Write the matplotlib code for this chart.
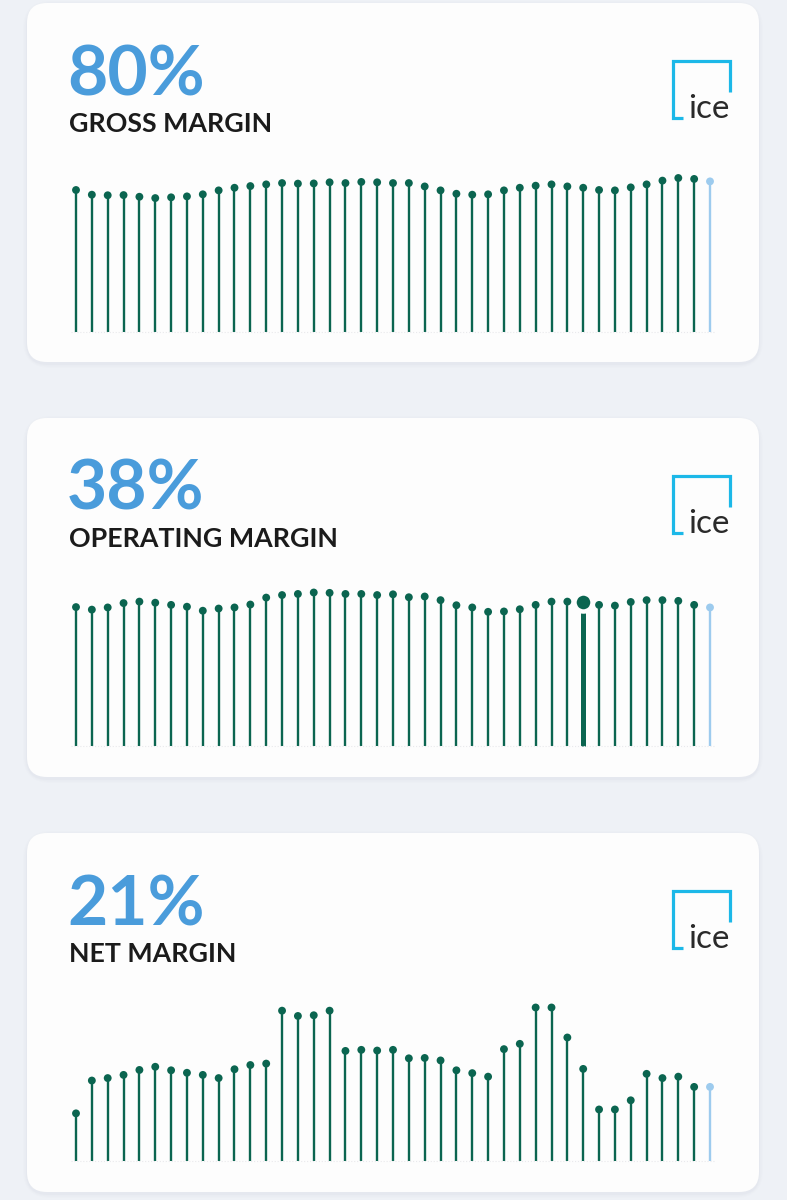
import matplotlib.pyplot as plt
from matplotlib.patches import FancyBboxPatch
import numpy as np

# valores (margen trimestral en %)
gross_margin = [75.4, 72.9, 72.6, 72.7, 71.8, 71.1, 71.5, 72.0, 73.1, 75.2,
                76.6, 77.5, 78.4, 79.1, 78.8, 78.9, 79.5, 79.1, 79.7, 79.5,
                79.1, 79.1, 77.3, 75.2, 73.4, 72.9, 73.1, 75.2, 76.6, 77.7,
                78.4, 77.3, 76.6, 75.4, 75.2, 76.8, 78.4, 80.4, 81.8, 81.3, 80.0]
operating_margin = [38.1, 37.4, 38.0, 39.2, 39.6, 39.3, 38.7, 38.2, 37.1, 37.7,
                    38.0, 38.8, 40.7, 41.4, 41.7, 42.1, 42.0, 41.7, 41.7, 41.4,
                    41.6, 40.8, 41.0, 40.0, 38.6, 38.0, 36.8, 36.9, 37.5, 38.7,
                    39.6, 39.6, 39.6, 38.7, 38.5, 39.5, 40.0, 40.0, 39.8, 38.7, 38.0]
net_margin = [13.5, 22.8, 23.5, 24.4, 25.8, 26.7, 25.7, 25.0, 24.4, 23.5,
              26.0, 27.2, 27.6, 42.6, 41.1, 41.3, 42.6, 31.2, 31.5, 31.3,
              31.5, 29.1, 29.2, 28.5, 25.7, 24.9, 23.9, 31.7, 33.2, 43.5,
              43.5, 35.0, 26.1, 14.6, 14.6, 17.2, 24.7, 23.5, 23.9, 21.0, 21.0]

titles = ['GROSS MARGIN', 'OPERATING MARGIN', 'NET MARGIN']
headline = ['80%', '38%', '21%']
series = [gross_margin, operating_margin, net_margin]
highlight = [None, 32, None]

W, H = 787, 1200
BG = '#eef1f6'
CARD = '#fdfdfd'
GREEN = '#0b6550'
LIGHT = '#9dcbee'
BLUE = '#4a9cdb'
CYAN = '#1cb8e8'

fig = plt.figure(figsize=(W / 100, H / 100), dpi=100, facecolor=BG)
bg = fig.add_axes([0, 0, 1, 1])
bg.set_xlim(0, W)
bg.set_ylim(H, 0)
bg.axis('off')

card_tops = [3, 418, 833]
card_h = 359

for k, top in enumerate(card_tops):
    # sombra suave, sobre todo abajo
    for i, a in enumerate([0.035, 0.025, 0.015]):
        d = 2 + 3 * i
        bg.add_patch(FancyBboxPatch((27 - d / 2, top + 2 - d / 2), 732 + d, card_h + d,
                                    boxstyle='round,pad=0,rounding_size=%d' % (20 + d),
                                    fc='#8a93a8', ec='none', alpha=a))
    bg.add_patch(FancyBboxPatch((27, top), 732, card_h,
                                boxstyle='round,pad=0,rounding_size=20',
                                fc=CARD, ec='none'))
    bg.text(67, top + 92, headline[k], fontsize=50, fontweight='bold',
            family='Lato', color=BLUE, va='baseline', ha='left')
    bg.text(69, top + 129, titles[k], fontsize=19.3, fontweight='bold',
            family='Lato', color='#1b1b1b', va='baseline', ha='left')
    # logo ICE
    bg.plot([682.7, 672.7, 672.7, 730, 730],
            [top + 115, top + 115, top + 58, top + 58, top + 88.7],
            color=CYAN, lw=2.3, solid_joinstyle='miter', solid_capstyle='butt')
    bg.text(688, top + 115, 'ice', fontsize=24, family='Lato',
            color='#2a2a2a', va='baseline', ha='left')

baselines = [331.5, 746, 1161]
bar_h = 153.5
x = np.arange(41)

for k, vals in enumerate(series):
    vals = np.array(vals)
    ax = fig.add_axes([76 / W, 1 - baselines[k] / H, 634 / W, bar_h / H])
    ax.set_xlim(0, 40)
    ax.set_ylim(0, vals.max())
    ax.axis('off')
    ax.patch.set_alpha(0)
    cols = [GREEN] * 40 + [LIGHT]
    lws = [1.7] * 41
    if highlight[k] is not None:
        lws[highlight[k]] = 3.6
    ax.vlines(x, 0, vals, colors=cols, linewidths=lws, clip_on=False)
    ax.scatter(x, vals, s=32, c=cols, zorder=3, clip_on=False, linewidths=0)
    if highlight[k] is not None:
        i = highlight[k]
        ax.plot(i, vals[i], 'o', ms=13, color=GREEN, mec=CARD, mew=3.2,
                zorder=4, clip_on=False)
    ax.plot([-0.3, 40.3], [0, 0], color='#e9e9ec', lw=0.8, ls=':', clip_on=False)

fig.savefig('out.png', dpi=100, facecolor=BG)
